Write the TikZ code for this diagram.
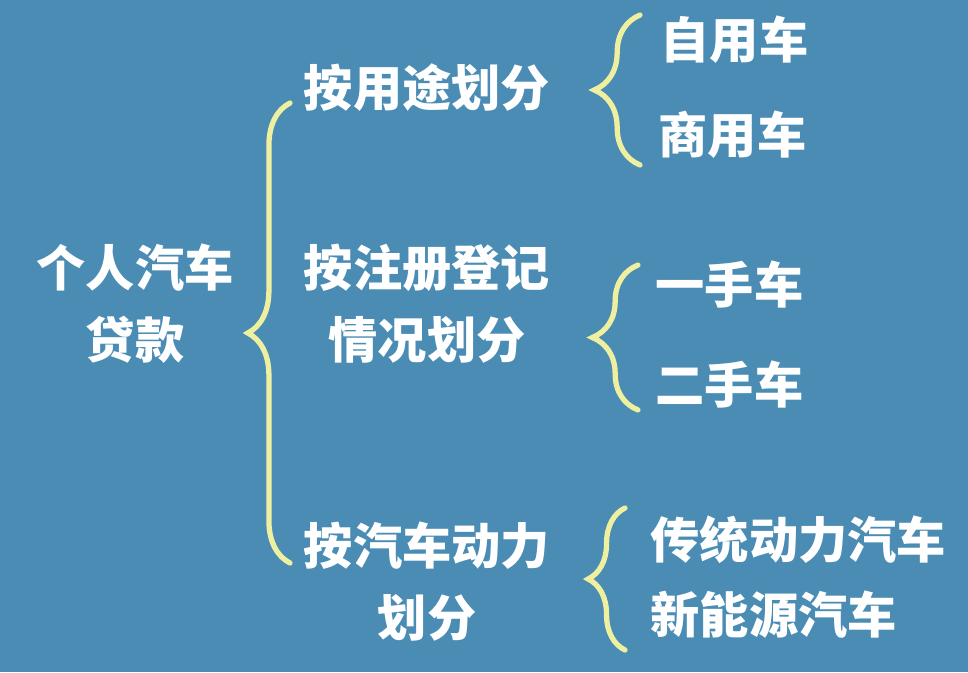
\documentclass[tikz,border=0pt]{standalone}
\usepackage{fontspec}
\usepackage{xcolor}
\newfontfamily\cjk{Noto Sans CJK SC}
\usetikzlibrary{decorations.pathreplacing}
\definecolor{boardblue}{RGB}{74,140,180}
\definecolor{braceyellow}{RGB}{238,240,160}
\tikzstyle{label} = [text=white, font=\cjk\bfseries\fontsize{14pt}{20.5pt}\selectfont, align=center, inner sep=0pt]
\tikzstyle{leaf} = [label, anchor=west]
\tikzstyle{curly} = [draw=braceyellow, line width=1.5pt, line cap=round, decorate]

\begin{document}
\begin{tikzpicture}

        \fill [boardblue] (0,0) rectangle (9.68,6.72);
        \useasboundingbox (0,0) rectangle (9.68,6.72);

        \node (loan) [label] at (1.35,3.68) {个人汽车\\贷款};
        \node (byUse) [label] at (4.27,5.84) {按用途划分};
        \node (byRegister) [label] at (4.27,3.68) {按注册登记\\情况划分};
        \node (byPower) [label] at (4.27,0.90) {按汽车动力\\划分};

        \node (private) [leaf] at (6.60,6.32) {自用车};
        \node (commercial) [leaf] at (6.58,5.37) {商用车};
        \node (firstHand) [leaf] at (6.55,3.87) {一手车};
        \node (secondHand) [leaf] at (6.55,2.87) {二手车};
        \node (traditional) [leaf] at (6.50,1.32) {传统动力汽车};
        \node (newEnergy) [leaf] at (6.50,0.57) {新能源汽车};

        % braces
        \draw [curly, decoration={brace, amplitude=12pt}] (2.90,1.09) -- (2.90,5.69);
        \draw [curly, decoration={brace, amplitude=13pt}] (6.40,5.07) -- (6.40,6.57);
        \draw [curly, decoration={brace, amplitude=13pt}] (6.38,2.62) -- (6.38,4.07);
        \draw [curly, decoration={brace, amplitude=10.5pt}] (6.25,0.22) -- (6.25,1.64);

\end{tikzpicture}
\end{document}
